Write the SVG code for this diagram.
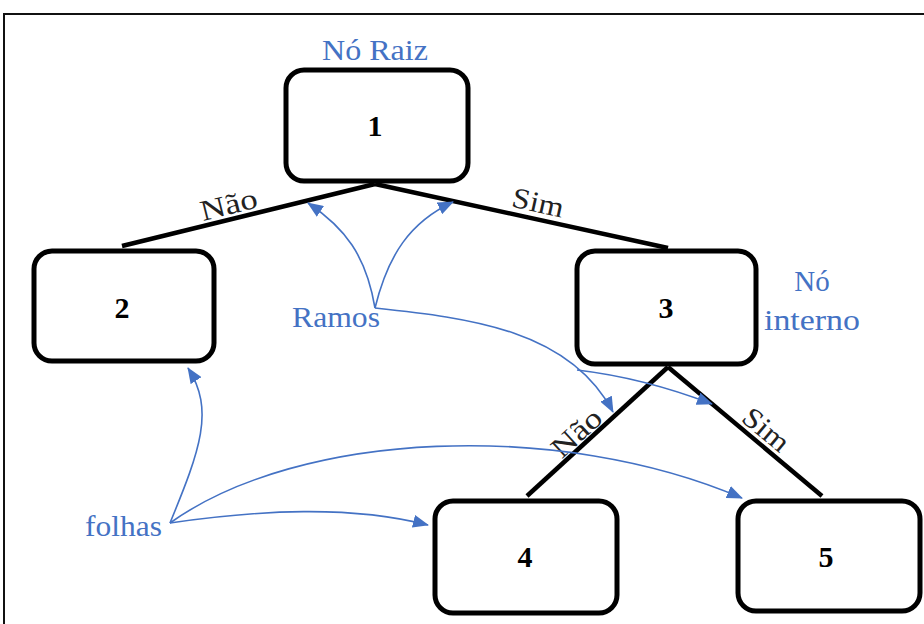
<svg xmlns="http://www.w3.org/2000/svg" width="924" height="624" viewBox="0 0 924 624">
<defs>
<marker id="ah" viewBox="0 0 16 13" refX="15" refY="6.5" markerWidth="16" markerHeight="13" markerUnits="userSpaceOnUse" orient="auto">
<path d="M0,0 L16,6.5 L0,13 z" fill="#4472C4"/>
</marker>
<style>
.node rect{fill:#fff;stroke:#000;stroke-width:5}
.num{font-family:"Liberation Serif","Times New Roman",serif;font-weight:bold;font-size:30px;text-anchor:middle;fill:#000}
.edge{stroke:#000;stroke-width:4.5;fill:none}
.elab{font-family:"Liberation Serif","Times New Roman",serif;font-size:29px;text-anchor:middle;fill:#222}
.blab{font-family:"Liberation Serif","Times New Roman",serif;font-size:29px;fill:#4472C4}
.ann{stroke:#4472C4;stroke-width:1.6;fill:none;marker-end:url(#ah)}
</style>
</defs>
<rect width="924" height="624" fill="#fff"/>
<rect x="4" y="14" width="940" height="640" fill="none" stroke="#111" stroke-width="2"/>
<g id="connectors">
<line class="edge" x1="375" y1="184" x2="122" y2="246"/>
<line class="edge" x1="375" y1="184" x2="668" y2="248"/>
<line class="edge" x1="668" y1="367" x2="527" y2="496"/>
<line class="edge" x1="668" y1="367" x2="822" y2="496"/>
<text class="elab" transform="translate(231,214) rotate(-14)" textLength="58" lengthAdjust="spacingAndGlyphs">Não</text>
<text class="elab" transform="translate(536,212) rotate(12.5)" textLength="52" lengthAdjust="spacingAndGlyphs">Sim</text>
<text class="elab" transform="translate(583,440) rotate(-42.5)" textLength="58" lengthAdjust="spacingAndGlyphs">Não</text>
<text class="elab" transform="translate(760,437) rotate(40)" textLength="52" lengthAdjust="spacingAndGlyphs">Sim</text>
</g>
<g id="n1" class="node"><rect x="286" y="70" width="182" height="111" rx="18"/><text class="num" x="375" y="136">1</text></g>
<g id="n2" class="node"><rect x="34" y="251" width="180" height="110" rx="18"/><text class="num" x="122" y="318">2</text></g>
<g id="n3" class="node"><rect x="577" y="251" width="179" height="113" rx="18"/><text class="num" x="666" y="318">3</text></g>
<g id="n4" class="node"><rect x="435" y="501" width="182" height="112" rx="18"/><text class="num" x="525" y="567">4</text></g>
<g id="n5" class="node"><rect x="738" y="501" width="182" height="110" rx="18"/><text class="num" x="826" y="567">5</text></g>
<g id="annotations">
<text class="blab" x="322" y="60" textLength="106" lengthAdjust="spacingAndGlyphs">Nó Raiz</text>
<text class="blab" x="292" y="327" textLength="88" lengthAdjust="spacingAndGlyphs">Ramos</text>
<text class="blab" x="812" y="291" text-anchor="middle">Nó</text>
<text class="blab" x="812" y="330" text-anchor="middle" textLength="96" lengthAdjust="spacingAndGlyphs">interno</text>
<text class="blab" x="85" y="536" textLength="77" lengthAdjust="spacingAndGlyphs">folhas</text>
<path class="ann" d="M375,308 C366,255 345,228 308,203"/>
<path class="ann" d="M375,308 C388,255 410,222 453,202"/>
<path class="ann" d="M375,308 C470,318 570,330 613,412"/>
<path class="ann" d="M577,370 C620,375 670,388 712,404"/>
<path class="ann" d="M170,523 C200,450 215,410 188,368"/>
<path class="ann" d="M170,523 C260,510 350,505 428,525"/>
<path class="ann" d="M170,523 C300,430 560,420 742,498"/>
</g>
</svg>
